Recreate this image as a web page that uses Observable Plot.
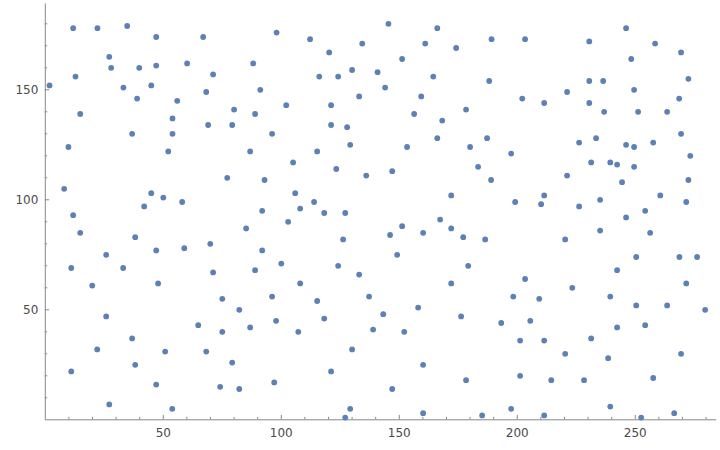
<!DOCTYPE html>
<html>
<head>
<meta charset="utf-8">
<script src="https://cdn.jsdelivr.net/npm/d3@7"></script>
<script src="https://cdn.jsdelivr.net/npm/@observablehq/plot@0.6"></script>
<style>
  html, body { margin: 0; padding: 0; background: #fff; }
  #chart { width: 720px; height: 450px; }
</style>
</head>
<body>
<div id="chart"></div>
<script>
// x positions of the points
const xs = [
  1.8, 8.0, 9.8, 11.0, 11.0, 11.8, 11.8, 12.8, 14.8, 14.8,
  19.9, 22.0, 22.1, 25.8, 25.8, 27.1, 27.1, 27.9, 33.1, 33.0,
  34.7, 36.8, 38.1, 36.8, 38.1, 38.9, 39.8, 41.9, 44.9, 44.9,
  47.0, 47.0, 47.0, 47.8, 47.0, 50.0, 50.8, 52.1, 53.9, 53.9,
  53.8, 55.9, 58.0, 58.9, 60.1, 64.8, 66.9, 68.2, 68.2, 69.0,
  69.9, 71.1, 71.1, 75.0, 75.0, 74.1, 77.1, 79.2, 80.0, 79.2,
  82.2, 82.2, 85.1, 86.8, 86.8, 88.1, 88.9, 88.9, 91.1, 91.9,
  91.9, 92.9, 96.1, 96.1, 97.0, 98.0, 97.8, 100.0, 102.1, 102.9,
  105.0, 105.9, 107.2, 108.0, 108.0, 112.2, 113.9, 115.2, 115.2, 116.1,
  118.2, 118.2, 120.3, 121.1, 121.1, 121.1, 123.3, 124.1, 124.1, 126.2,
  127.1, 127.1, 127.9, 129.2, 129.2, 130.0, 130.0, 133.0, 133.0, 134.3,
  136.0, 137.2, 138.9, 140.8, 143.2, 144.0, 145.4, 146.1, 147.0, 147.0,
  149.1, 151.2, 151.2, 152.1, 153.3, 156.3, 158.0, 159.3, 160.1, 160.1,
  161.0, 160.1, 164.4, 166.1, 166.1, 168.2, 167.3, 172.0, 172.0, 172.0,
  174.1, 176.2, 177.1, 178.3, 178.3, 179.2, 180.0, 183.4, 185.1, 186.4,
  187.2, 188.1, 188.9, 189.1, 193.2, 197.4, 197.4, 198.3, 199.1, 201.2,
  201.2, 202.1, 203.3, 203.3, 205.5, 209.3, 210.1, 211.4, 211.4, 211.4,
  211.4, 214.4, 220.3, 220.3, 221.1, 221.1, 223.3, 226.2, 226.2, 228.3,
  230.5, 230.5, 230.5, 231.3, 231.3, 233.4, 235.1, 235.1, 236.4, 236.8,
  238.5, 239.4, 239.4, 239.4, 242.3, 242.3, 242.3, 244.4, 246.1, 246.1,
  246.1, 248.3, 249.5, 249.5, 249.5, 250.4, 250.4, 251.2, 252.5, 254.2,
  254.2, 256.3, 257.6, 257.6, 258.4, 260.6, 263.5, 263.5, 266.5, 268.7,
  268.6, 269.4, 269.4, 269.4, 272.5, 271.6, 271.6, 272.5, 273.3, 276.2,
  279.6
];
// y values of the points
const ys = [
  152, 105, 124, 69, 22, 93, 178, 156, 139, 85,
  61, 32, 178, 75, 47, 165, 7, 160, 151, 69,
  179, 130, 83, 37, 25, 146, 160, 97, 152, 103,
  174, 161, 77, 62, 16, 101, 31, 122, 137, 130,
  5, 145, 99, 78, 162, 43, 174, 149, 31, 134,
  80, 67, 157, 55, 40, 15, 110, 134, 141, 26,
  50, 14, 87, 122, 42, 162, 68, 139, 150, 77,
  95, 109, 130, 56, 17, 176, 45, 71, 143, 90,
  117, 103, 40, 62, 96, 173, 99, 122, 54, 156,
  94, 46, 167, 143, 134, 22, 114, 70, 156, 82,
  94, 1, 133, 5, 125, 32, 159, 66, 147, 171,
  111, 56, 41, 158, 48, 151, 180, 84, 113, 14,
  75, 88, 164, 40, 124, 139, 51, 147, 85, 25,
  171, 3, 156, 128, 178, 136, 91, 62, 87, 102,
  169, 47, 83, 18, 141, 70, 124, 115, 2, 82,
  128, 154, 109, 173, 44, 121, 5, 56, 99, 36,
  20, 146, 64, 173, 45, 55, 98, 144, 102, 36,
  2, 18, 30, 82, 149, 111, 60, 126, 97, 18,
  172, 154, 144, 117, 37, 128, 86, 100, 154, 140,
  28, 117, 56, 6, 116, 68, 42, 108, 125, 178,
  92, 164, 124, 115, 150, 74, 52, 140, 1, 95,
  43, 85, 126, 19, 171, 102, 52, 140, 3, 74,
  146, 130, 30, 167, 109, 99, 62, 155, 120, 74,
  50
];
// axis tick values
const xMajor = [50, 100, 150, 200, 250];
const xMinor = [10, 20, 30, 40, 60, 70, 80, 90, 110, 120, 130, 140, 160, 170, 180, 190, 210, 220, 230, 240, 260, 270, 280];
const yMajor = [50, 100, 150];
const yMinor = [10, 20, 30, 40, 60, 70, 80, 90, 110, 120, 130, 140, 160, 170, 180];

const points = xs.map((x, i) => ({x, y: ys[i]}));

const W = 720, H = 450;
const mL = 44.8, mR = 3.8, mT = 3.5, mB = 30.7;
const innerW = W - mL - mR, innerH = H - mT - mB;
const axisColor = "#888888";
const textColor = "#4a4a4a";

const chart = Plot.plot({
  width: W,
  height: H,
  marginLeft: mL,
  marginRight: mR,
  marginTop: mT,
  marginBottom: mB,
  style: {background: "#ffffff", fontFamily: "DejaVu Sans, sans-serif", fontSize: "12px"},
  x: {domain: [0, 284.5], axis: null},
  y: {domain: [0, 189], axis: null},
  marks: [
    // axis lines
    Plot.ruleY([0], {stroke: axisColor, strokeWidth: 1}),
    Plot.ruleX([0], {stroke: axisColor, strokeWidth: 1}),
    // x ticks (pointing into the plot)
    Plot.tickX(xMinor, {x: d => d, stroke: axisColor, insetTop: innerH - 2.4}),
    Plot.tickX(xMajor, {x: d => d, stroke: axisColor, insetTop: innerH - 4.4}),
    // y ticks
    Plot.tickY(yMinor, {y: d => d, stroke: axisColor, insetRight: innerW - 2.4}),
    Plot.tickY(yMajor, {y: d => d, stroke: axisColor, insetRight: innerW - 4.4}),
    // tick labels
    Plot.axisX(xMajor, {tickSize: 0, tickPadding: 9, stroke: null, fill: textColor, fontSize: 12, label: null}),
    Plot.axisY(yMajor, {tickSize: 0, tickPadding: 7, stroke: null, fill: textColor, fontSize: 12, label: null}),
    // points
    Plot.dot(points, {x: "x", y: "y", r: 2.9, fill: "#5E81B5"})
  ]
});
document.getElementById("chart").appendChild(chart);
</script>
</body>
</html>
